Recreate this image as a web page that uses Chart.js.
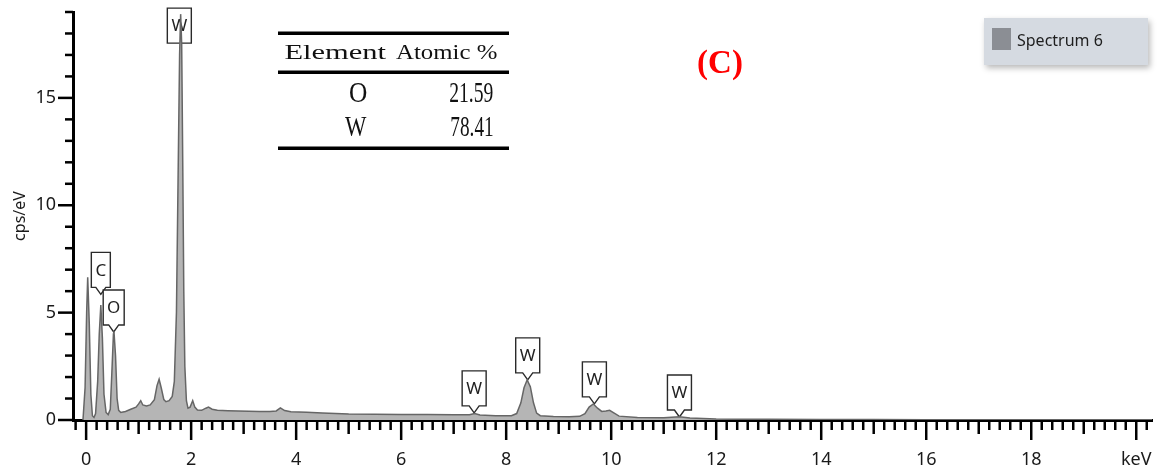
<!DOCTYPE html>
<html>
<head>
<meta charset="utf-8">
<script src="https://cdn.jsdelivr.net/npm/chart.js@4"></script>
<style>
html,body{margin:0;padding:0;background:#fff;}
#wrap{position:relative;width:1159px;height:472px;}
</style>
</head>
<body>
<div id="wrap"><canvas id="c" width="1159" height="472"></canvas></div>
<script>
// ---- data (keV, cps/eV) ----
const energyKeV = [-0.06,-0.02,0.01,0.03,0.06,0.09,0.12,0.15,0.18,0.22,0.25,0.28,0.31,0.34,0.38,0.42,0.46,0.49,0.52,0.53,0.56,0.59,0.62,0.66,0.75,0.85,0.95,1.0,1.04,1.08,1.15,1.22,1.3,1.35,1.39,1.43,1.48,1.52,1.58,1.64,1.68,1.72,1.75,1.78,1.80,1.82,1.84,1.86,1.88,1.91,1.94,1.98,2.03,2.07,2.12,2.2,2.28,2.33,2.4,2.5,2.7,2.9,3.1,3.3,3.5,3.62,3.7,3.78,3.9,4.2,4.5,5.0,5.5,6.0,6.5,7.0,7.3,7.4,7.5,7.8,8.1,8.2,8.28,8.34,8.4,8.46,8.52,8.58,8.65,8.9,9.2,9.4,9.5,9.58,9.66,9.74,9.82,9.9,9.97,10.05,10.15,10.5,11.0,11.3,11.5,12.0,12.5,13.0,14.0,15.0,16.0,17.0,18.0,19.0,20.0,20.3];
const cpsPerEv = [0,1.5,5.0,6.65,4.5,1.2,0.2,0.12,0.3,1.8,4.0,5.35,3.8,1.2,0.35,0.25,0.5,2.2,4.0,4.13,3.0,1.0,0.45,0.35,0.4,0.5,0.6,0.75,0.9,0.7,0.65,0.7,0.95,1.6,1.9,1.5,0.95,0.85,0.9,1.1,1.8,5.0,11.0,17.0,18.9,17.5,12.0,6.0,2.5,0.9,0.55,0.6,0.9,0.6,0.47,0.45,0.55,0.6,0.5,0.45,0.43,0.42,0.41,0.4,0.4,0.42,0.56,0.44,0.38,0.36,0.33,0.28,0.27,0.26,0.26,0.25,0.24,0.3,0.23,0.2,0.2,0.3,0.8,1.5,1.87,1.55,0.8,0.32,0.2,0.16,0.15,0.17,0.3,0.6,0.75,0.55,0.4,0.42,0.45,0.33,0.18,0.12,0.1,0.15,0.09,0.05,0.04,0.03,0.02,0.02,0.01,0.01,0.01,0.01,0.01,0.01];
const seriesName = 'Spectrum 6';

// peak labels
const peakLabels = ['C','O','W','W','W','W','W'];
const peakEnergy = [0.28,0.525,1.775,7.39,8.41,9.68,11.3];
const peakTip    = [5.85,4.1,17.55,0.33,1.87,0.75,0.14];
const peakPointer= [true,true,false,true,true,true,true];

// composition table
const tableHeader = ['Element','Atomic %'];
const tableElements = ['O','W'];
const tableAtomic = ['21.59','78.41'];
const panelLabel = '(C)';

// axis ticks
const xTickLabels = {0:'0',2:'2',4:'4',6:'6',8:'8',10:'10',12:'12',14:'14',16:'16',18:'18',20:'keV'};
const yTickLabels = {0:'0',5:'5',10:'10',15:'15'};

const SANS = '"Noto Sans", "Open Sans", sans-serif';
const SERIF = '"Liberation Serif", "Times New Roman", serif';

function fitText(ctx, text, family, weight, x0, x1, y0, y1) {
  ctx.save();
  ctx.font = weight + ' 100px ' + family;
  ctx.textAlign = 'left';
  ctx.textBaseline = 'alphabetic';
  const m = ctx.measureText(text);
  const iw = m.actualBoundingBoxLeft + m.actualBoundingBoxRight;
  const ih = m.actualBoundingBoxAscent + m.actualBoundingBoxDescent;
  const sx = (x1 - x0) / iw, sy = (y1 - y0) / ih;
  ctx.translate(x0, y0);
  ctx.scale(sx, sy);
  ctx.fillText(text, m.actualBoundingBoxLeft, m.actualBoundingBoxAscent);
  ctx.restore();
}

const decorPlugin = {
  id: 'decor',
  beforeDatasetsDraw(chart) {
    const ctx = chart.ctx;
    const xs = chart.scales.x, ys = chart.scales.y;
    ctx.save();
    ctx.font = '17px ' + SANS;
    for (let i = 0; i < peakLabels.length; i++) {
      const cx = xs.getPixelForValue(peakEnergy[i]);
      const tipY = ys.getPixelForValue(peakTip[i]);
      const tw = ctx.measureText(peakLabels[i]).width;
      const w = Math.round(tw + 8), h = 35;
      const dep = peakPointer[i] ? 7 : 0;
      const bot = tipY - dep, top = bot - h;
      const l = cx - w / 2, r = cx + w / 2;
      ctx.beginPath();
      ctx.moveTo(l, top); ctx.lineTo(r, top); ctx.lineTo(r, bot);
      if (dep) { ctx.lineTo(cx + 5, bot); ctx.lineTo(cx, tipY); ctx.lineTo(cx - 5, bot); }
      ctx.lineTo(l, bot); ctx.closePath();
      ctx.fillStyle = '#fff'; ctx.fill();
      ctx.lineWidth = 1.4; ctx.strokeStyle = '#2a2a2a'; ctx.stroke();
      ctx.fillStyle = '#222'; ctx.textAlign = 'center'; ctx.textBaseline = 'middle';
      ctx.fillText(peakLabels[i], cx, top + h / 2 + 1);
    }
    ctx.restore();
  },
  afterDraw(chart) {
    const ctx = chart.ctx;
    const xs = chart.scales.x, ys = chart.scales.y;
    const ca = chart.chartArea;
    ctx.save();
    ctx.strokeStyle = '#000';
    ctx.lineWidth = 2.5;
    for (let v = 0; v <= 19; v++) {
      const y = ys.getPixelForValue(v);
      const len = v % 5 === 0 ? 15 : 8;
      ctx.beginPath(); ctx.moveTo(ca.left - len, y); ctx.lineTo(ca.left, y); ctx.stroke();
    }
    for (let i = -1; i <= 101; i++) {
      const x = xs.getPixelForValue(i / 5);
      const len = i % 10 === 0 ? 20 : (i % 5 === 0 ? 14 : 10);
      ctx.beginPath(); ctx.moveTo(x, ca.bottom); ctx.lineTo(x, ca.bottom + len); ctx.stroke();
    }
    ctx.restore();

    // table
    ctx.save();
    ctx.fillStyle = '#000';
    ctx.fillRect(278, 31.5, 231, 3.5);
    ctx.fillRect(278, 70.5, 231, 3.5);
    ctx.fillRect(278, 146.5, 231, 3.5);
    ctx.fillStyle = '#111';
    fitText(ctx, tableHeader[0], SERIF, 'normal', 285, 386, 45, 59.5);
    fitText(ctx, tableHeader[1], SERIF, 'normal', 396, 496.5, 45, 59.5);
    fitText(ctx, tableElements[0], SERIF, 'normal', 350, 366.5, 83, 103);
    fitText(ctx, tableAtomic[0], SERIF, 'normal', 450, 492.5, 83, 103);
    fitText(ctx, tableElements[1], SERIF, 'normal', 345, 366.5, 117, 137);
    fitText(ctx, tableAtomic[1], SERIF, 'normal', 451.5, 492.5, 117, 137);
    ctx.restore();

    // panel label
    ctx.save();
    ctx.fillStyle = '#ff0000';
    ctx.font = 'bold 33px ' + SERIF;
    ctx.textAlign = 'center'; ctx.textBaseline = 'alphabetic';
    ctx.fillText(panelLabel, 720, 73);
    ctx.restore();

    // legend box
    ctx.save();
    ctx.shadowColor = 'rgba(0,0,0,0.28)';
    ctx.shadowBlur = 6; ctx.shadowOffsetX = 2; ctx.shadowOffsetY = 3;
    ctx.fillStyle = '#d5dae1';
    ctx.fillRect(984, 18, 164, 47);
    ctx.restore();
    ctx.save();
    ctx.fillStyle = '#8b8e94';
    ctx.fillRect(992, 28, 19, 22);
    ctx.fillStyle = '#1e1e1e';
    ctx.font = '16px ' + SANS;
    ctx.textAlign = 'left'; ctx.textBaseline = 'middle';
    ctx.fillText(chart.data.datasets[0].label, 1017, 41);
    ctx.restore();
  }
};

new Chart(document.getElementById('c'), {
  type: 'line',
  data: {
    datasets: [{
      label: seriesName,
      data: energyKeV.map((e, i) => ({x: e, y: cpsPerEv[i]})),
      borderColor: '#666666',
      backgroundColor: '#b5b5b5',
      borderWidth: 1.5,
      fill: 'origin',
      pointRadius: 0,
      tension: 0
    }]
  },
  options: {
    responsive: false,
    animation: false,
    events: [],
    layout: {padding: {top: 12, right: 7, left: 0, bottom: 0}},
    plugins: {legend: {display: false}, tooltip: {enabled: false}},
    scales: {
      x: {
        type: 'linear', min: -0.25, max: 20.3,
        afterFit: s => { s.height = 52; s.paddingLeft = 0; s.paddingRight = 0; },
        grid: {display: true, drawOnChartArea: false, drawTicks: false, color: 'rgba(0,0,0,0)'},
        border: {display: true, color: '#000', width: 3},
        ticks: {
          stepSize: 2, includeBounds: false, padding: 29, maxRotation: 0, autoSkip: false,
          color: '#1a1a1a', font: {family: SANS, size: 18},
          callback: v => (xTickLabels[v] !== undefined ? xTickLabels[v] : '')
        }
      },
      y: {
        type: 'linear', min: 0, max: 19,
        afterFit: s => { s.width = 73; s.paddingTop = 0; s.paddingBottom = 0; },
        grid: {display: true, drawOnChartArea: false, drawTicks: false, color: 'rgba(0,0,0,0)'},
        border: {display: true, color: '#000', width: 3},
        title: {display: true, text: 'cps/eV', color: '#1a1a1a', font: {family: SANS, size: 16}, padding: {top: 11, bottom: 0}},
        ticks: {
          stepSize: 1, includeBounds: false, padding: 17, autoSkip: false,
          color: '#1a1a1a', font: {family: SANS, size: 18},
          callback: v => (yTickLabels[v] !== undefined ? yTickLabels[v] : '')
        }
      }
    }
  },
  plugins: [decorPlugin]
});
</script>
</body>
</html>
